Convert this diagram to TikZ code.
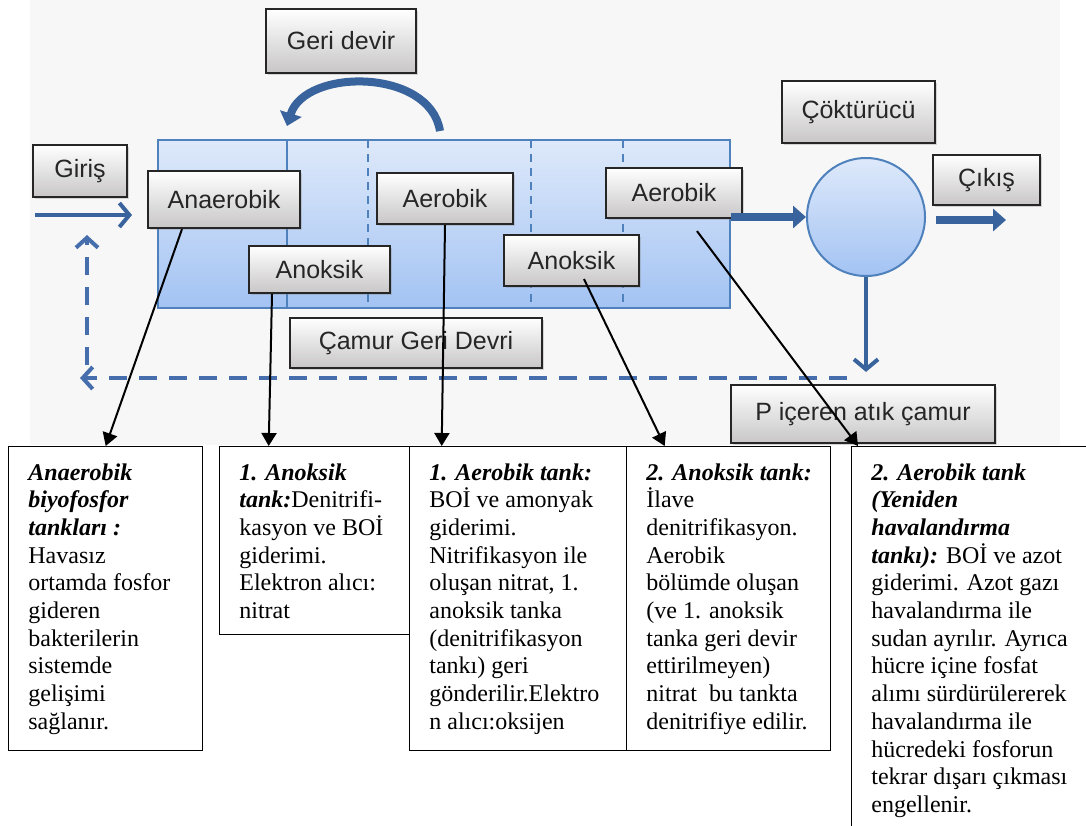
\documentclass[tikz,border=0pt]{standalone}
\usepackage{fontspec}
\setmainfont{Liberation Serif}
\newfontfamily\tagfont{Liberation Sans}
\usetikzlibrary{calc,arrows.meta,shadows}
\definecolor{tanktop}{RGB}{222,233,250}
\definecolor{tankbot}{RGB}{163,195,243}
\definecolor{tankedge}{RGB}{79,129,189}
\definecolor{flowblue}{RGB}{56,99,156}
\definecolor{retblue}{RGB}{70,110,172}
\definecolor{tagbot}{RGB}{200,198,198}
\tikzset{
	tag/.style={draw=black!85, line width=1.1pt, top color=white, bottom color=tagbot,
		text=black!85, font=\tagfont\fontsize{12.5}{14}\selectfont, inner sep=0pt,
		drop shadow={opacity=0.3, shadow xshift=1.2pt, shadow yshift=-1.2pt}},
	tank/.style={draw=tankedge, line width=1pt, top color=tanktop, bottom color=tankbot,
		minimum width=286pt, minimum height=84pt, inner sep=0pt},
	tankline/.style={draw=tankedge, line width=0.7pt},
	settler/.style={circle, draw=tankedge, line width=1pt, top color=tanktop,
		bottom color=tankbot, minimum size=59pt, inner sep=0pt},
	flow/.style={draw=flowblue, line width=4pt, -{Triangle[length=6.5pt,width=11pt]}},
	barb/.style={draw=flowblue, line width=2pt, -{Straight Barb[length=5pt,width=12pt]}},
	ret/.style={draw=retblue, line width=2pt, dash pattern=on 9pt off 6pt,
		-{Straight Barb[length=5pt,width=11pt]}},
	note/.style={draw, line width=0.7pt, anchor=north west, inner sep=0pt},
	notetext/.style={anchor=north west, align=left, inner xsep=10pt, inner ysep=8.5pt,
		font=\fontsize{12}{13.85}\selectfont},
	callout/.style={line width=1pt, -{Triangle[length=6.5pt,width=7.5pt]}}
}
\def\bi#1{\textbf{\textit{#1}}}

\begin{document}
\begin{tikzpicture}[x=0.5pt,y=-0.5pt]
	%%%%% START %%%%%
	\path[use as bounding box, clip] (0,0) rectangle (1086,825);
	\fill[black!3] (30,0) rectangle (1060,445);
	
	% tank and compartments
	\node[tank] (tank) at (444,224) {};
	\draw[tankline] (287,140) -- (287,308);
	\draw[tankline, dash pattern=on 4pt off 3pt] (368,140) -- (368,308);
	\draw[tankline, dash pattern=on 4pt off 3pt] (531,140) -- (531,308);
	\draw[tankline, dash pattern=on 4pt off 3pt] (623,140) -- (623,308);
	\node[settler] (settler) at (866,217) {};
	
	% labels
	\node[tag, minimum width=75pt, minimum height=32pt] (geri) at (341,41) {Geri devir};
	\node[tag, minimum width=47pt, minimum height=26pt] (giris) at (80,171) {Giriş};
	\node[tag, minimum width=76pt, minimum height=28.5pt] (anaer) at (224,199.5) {Anaerobik};
	\node[tag, minimum width=70.5pt, minimum height=23.5pt] (anoks1) at (319.5,269.5) {Anoksik};
	\node[tag, minimum width=68pt, minimum height=25.5pt] (aer1) at (445,198.5) {Aerobik};
	\node[tag, minimum width=67.5pt, minimum height=25.5pt] (anoks2) at (571.5,260.5) {Anoksik};
	\node[tag, minimum width=68pt, minimum height=25pt] (aer2) at (674,193) {Aerobik};
	\node[tag, minimum width=76.5pt, minimum height=31pt] (cokt) at (858.5,112) {Çöktürücü};
	\node[tag, minimum width=53.5pt, minimum height=25pt] (cikis) at (986.5,180) {Çıkış};
	\node[tag, minimum width=126pt, minimum height=25pt] (camur) at (416,343) {Çamur Geri Devri};
	\node[tag, minimum width=132pt, minimum height=29pt] (patik) at (863,414) {P içeren atık çamur};
	
	% flows
	\coordinate (inleft) at (35,215);
	\coordinate (inright) at (132,215);
	\draw[barb] (inleft) -- (inright);
	\coordinate (recstart) at (440,131);
	\coordinate (recend) at (287,126);
	\draw[flow] (recstart) .. controls (430,68) and (305,68) .. (recend);
	\draw[flow] (tank.east |- settler.west) -- (settler.west);
	\coordinate (outstart) at ($(settler.east)+(10,3)$);
	\coordinate (outend) at ($(settler.east)+(80,3)$);
	\draw[flow] (outstart) -- (outend);
	\draw[barb] (settler.south) -- ($(patik.north -| settler.south)+(0,-12)$);
	\coordinate (retstart) at (847,378);
	\coordinate (retend) at (80,378);
	\draw[ret] (retstart) -- (retend);
	\coordinate (upstart) at (87,365);
	\coordinate (upend) at (87,235);
	\draw[ret] (upstart) -- (upend);
	
	% notes
	\node[note, minimum width=97pt, minimum height=152pt] (b1) at (8,446) {};
	\node[notetext] (t1) at (b1.north west) {\bi{Anaerobik}\\ \bi{biyofosfor}\\ \bi{tankları :}\\ Havasız\\ ortamda fosfor\\ gideren\\ bakterilerin\\ sistemde\\ gelişimi\\ sağlanır.};
	\node[note, minimum width=95pt, minimum height=94pt] (b2) at (219,446) {};
	\node[notetext] (t2) at (b2.north west) {\bi{1. Anoksik}\\ \bi{tank:}Denitrifi-\\ kasyon ve BOİ\\ giderimi.\\ Elektron alıcı:\\ nitrat};
	\node[note, minimum width=108.5pt, minimum height=152pt] (b3) at (409,446) {};
	\node[notetext] (t3) at (b3.north west) {\bi{1. Aerobik tank:}\\ BOİ ve amonyak\\ giderimi.\\ Nitrifikasyon ile\\ oluşan nitrat, 1.\\ anoksik tanka\\ (denitrifikasyon\\ tankı) geri\\ gönderilir.Elektro\\ n alıcı:oksijen};
	\node[note, minimum width=102pt, minimum height=152pt] (b4) at (626,446) {};
	\node[notetext] (t4) at (b4.north west) {\bi{2. Anoksik tank:}\\ İlave\\ denitrifikasyon.\\ Aerobik\\ bölümde oluşan\\ (ve 1. anoksik\\ tanka geri devir\\ ettirilmeyen)\\ nitrat~ bu tankta\\ denitrifiye edilir.};
	\node[note, minimum width=121pt, minimum height=200pt] (b5) at (851,446) {};
	\node[notetext] (t5) at (b5.north west) {\bi{2. Aerobik tank}\\ \bi{(Yeniden}\\ \bi{havalandırma}\\ \bi{tankı):} BOİ ve azot\\ giderimi. Azot gazı\\ havalandırma ile\\ sudan ayrılır. Ayrıca\\ hücre içine fosfat\\ alımı sürdürülererek\\ havalandırma ile\\ hücredeki fosforun\\ tekrar dışarı çıkması\\ engellenir.};
	
	% callouts
	\draw[callout] ($(anaer.south)+(-42,0)$) -- (b1.north);
	\draw[callout] ($(anoks1.south)+(-47.5,0)$) -- ($(b2.north)+(-46,0)$);
	\draw[callout] (aer1.south) -- ($(b3.north)+(-76.5,0)$);
	\draw[callout] ($(anoks2.south)+(12.5,-8)$) -- ($(b4.north)+(-64,0)$);
	\draw[callout] ($(aer2.south)+(23,12)$) -- ($(b5.north west)+(7,0)$);
	%%%%% END %%%%%
\end{tikzpicture}
\end{document}
